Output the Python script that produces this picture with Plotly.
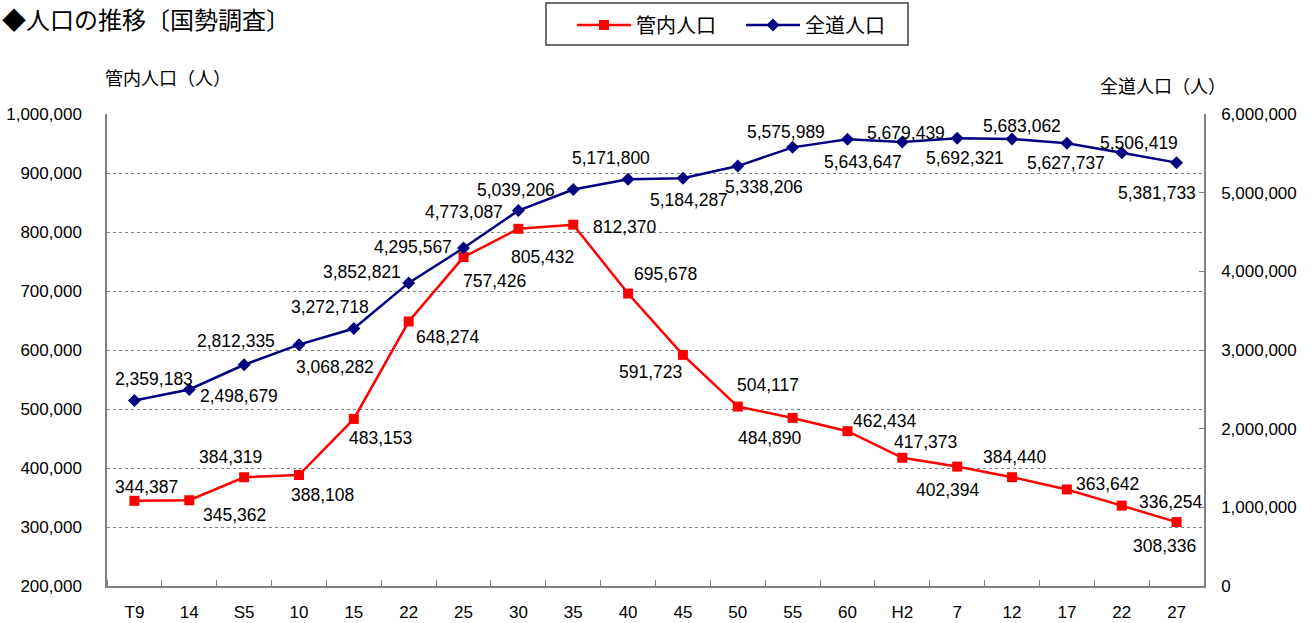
import plotly.graph_objects as go

# ---- data ----
years = ["T9", "14", "S5", "10", "15", "22", "25", "30", "35", "40",
         "45", "50", "55", "60", "H2", "7", "12", "17", "22", "27"]
kannai = [344387, 345362, 384319, 388108, 483153, 648274, 757426, 805432, 812370, 695678,
          591723, 504117, 484890, 462434, 417373, 402394, 384440, 363642, 336254, 308336]
zendo = [2359183, 2498679, 2812335, 3068282, 3272718, 3852821, 4295567, 4773087, 5039206, 5171800,
         5184287, 5338206, 5575989, 5679439, 5643647, 5692321, 5683062, 5627737, 5506419, 5381733]
left_ticks = [200000, 300000, 400000, 500000, 600000, 700000, 800000, 900000, 1000000]
right_ticks = [0, 1000000, 2000000, 3000000, 4000000, 5000000, 6000000]

# ---- label offsets in px (dx right, dy down) ----
kannai_off = [(12, -14), (45, 15), (-14, -20), (24, 20), (27, 19), (39, 15), (31, 24), (24, 28),
              (52, 2), (37, -20), (-32, 17), (30, -22), (-23, 20), (38, -10), (23, -16), (-9, 23),
              (3, -20), (41, -5), (49, -4), (-12, 24)]
zendo_off = [(20, -21), (50, 7), (-8, -24), (36, 22), (-24, -22), (-47, -11), (-51, -1), (-54, 1),
             (-57, 0), (-17, -21), (6, 22), (26, 21), (-7, -15), (59, -6), (-39, 20), (8, 20),
             (10, -13), (-1, 20), (17, -10), (-20, 30)]

NUM_FONT = "Liberation Sans, Arial, Noto Sans CJK JP"
JP_FONT = "Noto Sans CJK JP"
GRAY = "#808080"

xs = list(range(len(years)))

fig = go.Figure()
fig.add_trace(go.Scatter(
    x=xs, y=zendo, name="全道人口", yaxis="y2", mode="lines+markers",
    line=dict(color="#000080", width=2.5),
    marker=dict(symbol="diamond", size=10, color="#000080"),
    legendrank=2,
))
fig.add_trace(go.Scatter(
    x=xs, y=kannai, name="管内人口", yaxis="y", mode="lines+markers",
    line=dict(color="#FF0000", width=2.5),
    marker=dict(symbol="square", size=10, color="#FF0000"),
    legendrank=1,
))

annotations = []
for x, v, (dx, dy) in zip(xs, kannai, kannai_off):
    annotations.append(dict(x=x, y=v, xref="x", yref="y", text=f"{v:,}", showarrow=False,
                            xshift=dx, yshift=-dy, font=dict(family=NUM_FONT, size=17.5, color="black")))
for x, v, (dx, dy) in zip(xs, zendo, zendo_off):
    annotations.append(dict(x=x, y=v, xref="x", yref="y2", text=f"{v:,}", showarrow=False,
                            xshift=dx, yshift=-dy, font=dict(family=NUM_FONT, size=17.5, color="black")))

L, R, T, B = 107, 111, 114, 37
W, H = 1315, 623
PW, PH = W - L - R, H - T - B


def px(xp):
    return (xp - L) / PW


def py(yp):
    return (H - B - yp) / PH


annotations += [
    dict(text="◆人口の推移〔国勢調査〕", xref="paper", yref="paper", x=px(0), y=py(19),
         xanchor="left", yanchor="middle", showarrow=False,
         font=dict(family=JP_FONT, size=24, color="black")),
    dict(text="管内人口（人）", xref="paper", yref="paper", x=px(168), y=py(77),
         xanchor="center", yanchor="middle", showarrow=False,
         font=dict(family=JP_FONT, size=18, color="black")),
    dict(text="全道人口（人）", xref="paper", yref="paper", x=px(1163), y=py(85),
         xanchor="center", yanchor="middle", showarrow=False,
         font=dict(family=JP_FONT, size=18, color="black")),
]

fig.update_layout(
    width=W, height=H,
    margin=dict(l=L, r=R, t=T, b=B, pad=0, autoexpand=False),
    paper_bgcolor="white", plot_bgcolor="white",
    showlegend=True,
    legend=dict(orientation="h", xref="container", yref="container",
                x=572 / W, y=1 - 25 / H, xanchor="left", yanchor="middle",
                itemwidth=54, entrywidth=100, entrywidthmode="pixels",
                font=dict(family=JP_FONT, size=20, color="black"),
                bgcolor="rgba(0,0,0,0)", borderwidth=0, traceorder="normal"),
    annotations=annotations,
    shapes=[dict(type="rect", xref="paper", yref="paper", x0=px(546), x1=px(908),
                 y0=py(45), y1=py(3), line=dict(color="#404040", width=1.5))],
    xaxis=dict(range=[-0.5, len(years) - 0.5], tickmode="array", tickvals=xs, ticktext=years,
               showgrid=False, zeroline=False, showline=True, linecolor=GRAY, linewidth=1.5,
               ticks="", ticklabelstandoff=10, automargin=False,
               minor=dict(ticks="inside", ticklen=6, tickcolor=GRAY, tick0=0.5, dtick=1, showgrid=False),
               tickfont=dict(family=NUM_FONT, size=17, color="black")),
    yaxis=dict(range=[200000, 1000000], tickmode="array", tickvals=left_ticks,
               ticktext=[f"{t:,}" for t in left_ticks],
               showgrid=True, gridcolor=GRAY, griddash="dot", gridwidth=1,
               zeroline=False, showline=True, linecolor=GRAY, linewidth=1.5,
               ticks="", ticklabelstandoff=20, automargin=False,
               tickfont=dict(family=NUM_FONT, size=17, color="black")),
    yaxis2=dict(range=[0, 6000000], overlaying="y", side="right", tickmode="array",
                tickvals=right_ticks, ticktext=[f"{t:,}" for t in right_ticks],
                showgrid=False, zeroline=False, showline=True, linecolor=GRAY, linewidth=1.5,
                ticks="inside", ticklen=5, tickcolor=GRAY, ticklabelstandoff=12, automargin=False,
                tickfont=dict(family=NUM_FONT, size=17, color="black")),
)

fig.write_html("out.html", config={"displayModeBar": False},
               post_script="document.body.style.margin='0';document.body.style.overflow='hidden';")
